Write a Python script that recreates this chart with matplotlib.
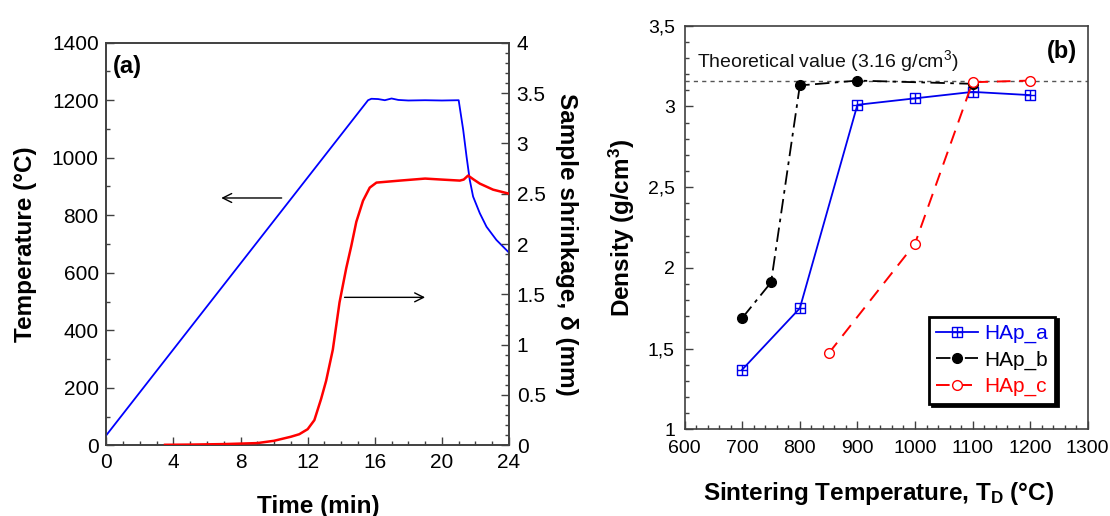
import matplotlib
matplotlib.use("Agg")
import matplotlib.pyplot as plt
from matplotlib.path import Path
from matplotlib.ticker import MultipleLocator, FixedLocator, FixedFormatter

plt.rcParams['font.family'] = ['Liberation Sans', 'DejaVu Sans']
plt.rcParams['mathtext.fontset'] = 'custom'
plt.rcParams['mathtext.rm'] = 'Liberation Sans'
plt.rcParams['mathtext.bf'] = 'Liberation Sans:bold'
plt.rcParams['mathtext.it'] = 'Liberation Sans:italic'

# ---------------- data: panel (a) ----------------
time_temp = [0, 15.6, 15.8, 16.2, 16.6, 17.0, 17.4, 18.0, 19.0, 20.0, 21.0,
             21.27, 21.47, 21.66, 21.86, 22.26, 22.66, 23.25, 24.0]
temperature = [35, 1200, 1205, 1204, 1200, 1206, 1201, 1199, 1200, 1199, 1200,
               1097, 1004, 923, 865, 807, 760, 714, 670]

time_shrink = [3.5, 5.0, 7.0, 9.0, 10.0, 11.0, 11.5, 12.0, 12.4, 12.8, 13.1,
               13.5, 13.9, 14.3, 14.6, 14.9, 15.3, 15.7, 16.1, 17.5, 19.0,
               20.0, 21.07, 21.3, 21.56, 21.9, 22.26, 23.05, 24.0]
shrinkage = [0.005, 0.007, 0.012, 0.022, 0.045, 0.085, 0.11, 0.16, 0.25, 0.46, 0.64,
             0.95, 1.42, 1.76, 1.98, 2.22, 2.43, 2.56, 2.61, 2.63, 2.65,
             2.64, 2.63, 2.64, 2.68, 2.64, 2.60, 2.54, 2.50]

shrink_ticks = [0, 0.5, 1, 1.5, 2, 2.5, 3, 3.5, 4]
shrink_labels = ['0', '0.5', '1', '1.5', '2', '2.5', '3', '3.5', '4']

# ---------------- data: panel (b) ----------------
T_a = [700, 800, 900, 1000, 1100, 1200]
rho_a = [1.37, 1.75, 3.01, 3.05, 3.09, 3.07]
T_b = [700, 750, 800, 900, 1100]
rho_b = [1.69, 1.91, 3.13, 3.16, 3.14]
T_c = [850, 1000, 1100, 1200]
rho_c = [1.47, 2.15, 3.15, 3.16]
theoretical = 3.16
dens_ticks = [1, 1.5, 2, 2.5, 3, 3.5]
dens_labels = ['1', '1,5', '2', '2,5', '3', '3,5']

W, H = 1110, 516
fig = plt.figure(figsize=(W / 100, H / 100), dpi=100)

spine_c = '#404040'
lab_fs = 17.5

def style_ticks(ax, fs, **kw):
    ax.tick_params(which='both', direction='in', color=spine_c, width=1.0,
                   labelsize=fs, **kw)
    ax.tick_params(which='major', length=6)
    ax.tick_params(which='minor', length=3)

# ---------- panel (a) ----------
ax1 = fig.add_axes([106.3 / W, (H - 445.3) / H, 402.7 / W, 402.6 / H])
ax2 = ax1.twinx()

ax1.plot(time_temp, temperature, color='#0000ff', lw=1.3, zorder=3)
ax2.plot(time_shrink, shrinkage, color='#ff0000', lw=1.8, zorder=3)

ax1.set_xlim(0, 24)
ax1.set_ylim(0, 1400)
ax2.set_ylim(0, 4)
ax1.xaxis.set_major_locator(MultipleLocator(4))
ax1.xaxis.set_minor_locator(MultipleLocator(1))
ax1.yaxis.set_major_locator(MultipleLocator(200))
ax1.yaxis.set_minor_locator(MultipleLocator(100))
ax2.yaxis.set_major_locator(FixedLocator(shrink_ticks))
ax2.yaxis.set_major_formatter(FixedFormatter(shrink_labels))
ax2.yaxis.set_minor_locator(MultipleLocator(0.1))

style_ticks(ax1, 15, top=False, right=False, pad=5.5)
style_ticks(ax2, 15, pad=5.5)
for ax in (ax1, ax2):
    for s in ax.spines.values():
        s.set_color(spine_c)
        s.set_linewidth(1.2)

ax1.set_xlabel('Time (min)', fontsize=lab_fs, fontweight='bold')
ax1.xaxis.set_label_coords(0.527, (445.3 - 512.5) / 402.6)
ax1.xaxis.label.set_va('baseline')
ax1.set_ylabel('Temperature (°C)', fontsize=lab_fs, fontweight='bold')
ax1.yaxis.set_label_coords((32 - 106.3) / 402.7, 0.5)
ax1.yaxis.label.set_va('baseline')
ax2.set_ylabel('Sample shrinkage, δ (mm)', fontsize=lab_fs, fontweight='bold',
               rotation=270)
ax2.yaxis.set_label_coords((560 - 106.3) / 402.7, 0.5)
ax2.yaxis.label.set_va('baseline')
ax2.yaxis.label.set_ha('center')

ax1.text(0.017, 0.94, '(a)', transform=ax1.transAxes, fontsize=17,
         fontweight='bold', ha='left', va='center')

ax1.annotate('', xy=(6.85, 860), xytext=(10.45, 860),
             arrowprops=dict(arrowstyle='->', color='k', lw=1.0,
                             mutation_scale=16, shrinkA=0, shrinkB=0))
ax2.annotate('', xy=(19.0, 1.47), xytext=(14.2, 1.47),
             arrowprops=dict(arrowstyle='->', color='k', lw=1.0,
                             mutation_scale=16, shrinkA=0, shrinkB=0))

# ---------- panel (b) ----------
ax3 = fig.add_axes([684.7 / W, (H - 429.3) / H, 403.0 / W, 403.6 / H])

boxplus = Path([(-1, -1), (1, -1), (1, 1), (-1, 1), (-1, -1),
                (0, -1), (0, 1), (-1, 0), (1, 0)],
               [Path.MOVETO, Path.LINETO, Path.LINETO, Path.LINETO, Path.CLOSEPOLY,
                Path.MOVETO, Path.LINETO, Path.MOVETO, Path.LINETO])

ax3.axhline(theoretical, color='#555555', lw=1.0, dashes=(3, 3), zorder=1)

ax3.plot(T_a, rho_a, color='#0000ee', lw=1.3, marker=boxplus, ms=7.5,
         mfc='none', mec='#0000ee', mew=1.0, label='HAp_a', zorder=3)
ax3.plot(T_b, rho_b, color='black', lw=1.3, dashes=(8, 3, 2, 3), marker='o',
         ms=7, mfc='black', mec='black', label='HAp_b', zorder=3)
ax3.plot(T_c, rho_c, color='#ff0000', lw=1.4, dashes=(7, 4.5), marker='o',
         ms=7, mfc='white', mec='#ff0000', mew=1.0, label='HAp_c', zorder=4)

ax3.set_xlim(600, 1300)
ax3.set_ylim(1, 3.5)
ax3.xaxis.set_major_locator(MultipleLocator(100))
ax3.xaxis.set_minor_locator(MultipleLocator(20))
ax3.yaxis.set_major_locator(FixedLocator(dens_ticks))
ax3.yaxis.set_major_formatter(FixedFormatter(dens_labels))
ax3.yaxis.set_minor_locator(MultipleLocator(0.1))
style_ticks(ax3, 14, top=False, right=False)
ax3.tick_params(axis='x', pad=8)
ax3.tick_params(axis='y', pad=7)
for s in ax3.spines.values():
    s.set_color(spine_c)
    s.set_linewidth(1.2)

ax3.set_xlabel('Sintering Temperature, T$_\\mathbf{D}$ (°C)', fontsize=lab_fs,
               fontweight='bold')
ax3.xaxis.set_label_coords(0.482, (429.3 - 500) / 403.6)
ax3.xaxis.label.set_va('baseline')
ax3.set_ylabel('Density (g/cm$^\\mathbf{3}$)', fontsize=lab_fs, fontweight='bold')
ax3.yaxis.set_label_coords((630 - 684.7) / 403.0, 0.5)
ax3.yaxis.label.set_va('baseline')

ax3.text(622, 3.246, 'Theoretical value (3.16 g/cm$^3$)', fontsize=14,
         ha='left', va='baseline', color='#111111')
ax3.text(0.973, 0.935, '(b)', transform=ax3.transAxes, fontsize=17,
         fontweight='bold', ha='right', va='center')

leg = ax3.legend(loc='upper right', bbox_to_anchor=(0.919, 0.279),
                 fontsize=15, frameon=True, fancybox=False, framealpha=1,
                 edgecolor='black', handlelength=2.0, handletextpad=0.3,
                 labelspacing=0.35, borderpad=0.35, borderaxespad=0,
                 labelcolor='linecolor',
                 shadow={'color': 'black', 'alpha': 1})
leg.get_frame().set_linewidth(2.0)

fig.savefig('out.png', dpi=100)
